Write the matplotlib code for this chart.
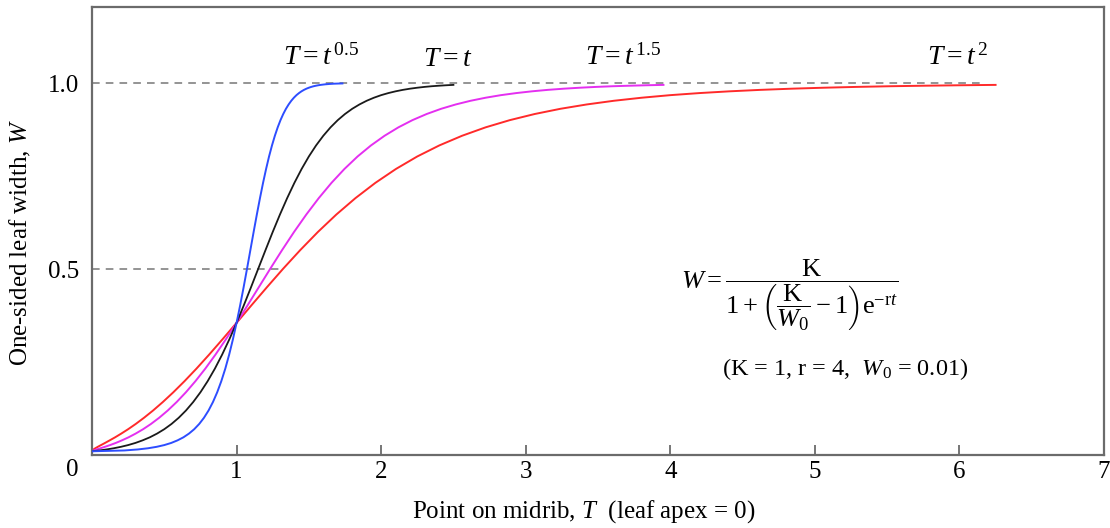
import matplotlib
matplotlib.use("Agg")
import matplotlib.pyplot as plt

plt.rcParams['font.family'] = ['Liberation Serif', 'DejaVu Serif']
plt.rcParams['mathtext.fontset'] = 'custom'
plt.rcParams['mathtext.rm'] = 'Liberation Serif'
plt.rcParams['mathtext.it'] = 'Liberation Serif:italic'
plt.rcParams['mathtext.bf'] = 'Liberation Serif:bold'

# Leaf width W (shared W readings at equal steps of t)
W_common = [0.0100, 0.0122, 0.0149, 0.0181, 0.0220, 0.0267, 0.0324, 0.0394, 0.0476, 0.0576,
            0.0694, 0.0835, 0.1002, 0.1197, 0.1425, 0.1687, 0.1986, 0.2323, 0.2699, 0.3111,
            0.3555, 0.4025, 0.4513, 0.5012, 0.5510, 0.5999, 0.6468, 0.6910, 0.7320, 0.7694,
            0.8030, 0.8327, 0.8587, 0.8813, 0.9007, 0.9172, 0.9312, 0.9429, 0.9528, 0.9610,
            0.9679, 0.9735, 0.9782, 0.9821, 0.9853, 0.9879, 0.9901, 0.9919, 0.9933, 0.9945,
            0.9955]
W_blue_tail = [0.9970, 0.9980, 0.9987, 0.9991, 0.9994]

# Positions on midrib T for each curve
T_black = [0.00, 0.05, 0.10, 0.15, 0.20, 0.25, 0.30, 0.35, 0.40, 0.45,
           0.50, 0.55, 0.60, 0.65, 0.70, 0.75, 0.80, 0.85, 0.90, 0.95,
           1.00, 1.05, 1.10, 1.15, 1.20, 1.25, 1.30, 1.35, 1.40, 1.45,
           1.50, 1.55, 1.60, 1.65, 1.70, 1.75, 1.80, 1.85, 1.90, 1.95,
           2.00, 2.05, 2.10, 2.15, 2.20, 2.25, 2.30, 2.35, 2.40, 2.45,
           2.50]
T_blue = [0.0, 0.2236, 0.3162, 0.3873, 0.4472, 0.5, 0.5477, 0.5916, 0.6325, 0.6708,
          0.7071, 0.7416, 0.7746, 0.8062, 0.8367, 0.8660, 0.8944, 0.9220, 0.9487, 0.9747,
          1.0, 1.0247, 1.0488, 1.0724, 1.0954, 1.1180, 1.1402, 1.1619, 1.1832, 1.2042,
          1.2247, 1.2450, 1.2649, 1.2845, 1.3038, 1.3229, 1.3416, 1.3601, 1.3784, 1.3964,
          1.4142, 1.4318, 1.4491, 1.4663, 1.4832, 1.5, 1.5166, 1.5330, 1.5492, 1.5652,
          1.5811]
T_blue_tail = [1.6125, 1.6432, 1.6733, 1.7029, 1.7321]
T_magenta = [0.0, 0.01118, 0.03162, 0.05809, 0.08944, 0.125, 0.1643, 0.2071, 0.2530, 0.3019,
             0.3536, 0.4079, 0.4648, 0.5240, 0.5857, 0.6495, 0.7155, 0.7837, 0.8538, 0.9260,
             1.0, 1.0759, 1.1537, 1.2333, 1.3145, 1.3975, 1.4823, 1.5686, 1.6565, 1.7461,
             1.8371, 1.9298, 2.0238, 2.1194, 2.2165, 2.3151, 2.4149, 2.5162, 2.6190, 2.7230,
             2.8284, 2.9352, 3.0431, 3.1525, 3.2630, 3.375, 3.4882, 3.6026, 3.7181, 3.8347,
             3.9528]
T_red = [0.0, 0.0025, 0.01, 0.0225, 0.04, 0.0625, 0.09, 0.1225, 0.16, 0.2025,
         0.25, 0.3025, 0.36, 0.4225, 0.49, 0.5625, 0.64, 0.7225, 0.81, 0.9025,
         1.0, 1.1025, 1.21, 1.3225, 1.44, 1.5625, 1.69, 1.8225, 1.96, 2.1025,
         2.25, 2.4025, 2.56, 2.7225, 2.89, 3.0625, 3.24, 3.4225, 3.61, 3.8025,
         4.0, 4.2025, 4.41, 4.6225, 4.84, 5.0625, 5.29, 5.5225, 5.76, 6.0025,
         6.25]

x_ticks = [1, 2, 3, 4, 5, 6, 7]
y_ticks = [0.5, 1.0]
y_tick_labels = ['0.5', '1.0']

fig = plt.figure(figsize=(11.1, 5.28), dpi=100)
ax = fig.add_axes([92/1110, 1-455/528, (1104-92)/1110, (455-7)/528])

spine_col = '#6b6b6b'
for s in ax.spines.values():
    s.set_color(spine_col)
    s.set_linewidth(1.6)

ax.hlines(1.0, 0, 6.15, colors='#777777', linestyles=(0, (5, 4)), lw=1.1, zorder=1)
ax.hlines(0.5, 0, 1.3, colors='#777777', linestyles=(0, (5, 4)), lw=1.1, zorder=1)

ax.plot(T_red, W_common, color='#ff2a2a', lw=1.4, zorder=2)
ax.plot(T_magenta, W_common, color='#e42ff0', lw=1.4, zorder=3)
ax.plot(T_black, W_common, color='#1a1a1a', lw=1.3, zorder=4)
ax.plot(T_blue + T_blue_tail, W_common + W_blue_tail, color='#2d4dff', lw=1.4, zorder=5)

ax.set_xlim(0, 7)
ax.set_ylim(0, 1.205)
ax.set_xticks(x_ticks)
ax.set_xticklabels([str(v) for v in x_ticks])
ax.set_yticks(y_ticks)
ax.set_yticklabels(y_tick_labels)
ax.tick_params(axis='x', direction='in', length=7, width=1.3, color=spine_col,
               labelsize=18, pad=4)
ax.tick_params(axis='y', length=0, labelsize=18, pad=9)

fig.text(72/1110, 1-470/528, '0', fontsize=18, ha='center', va='center')

fig.text(584/1110, 1-512/528, r'Point on midrib, $T$  (leaf apex = 0)', fontsize=18,
         ha='center', va='center')
fig.text(20/1110, 1-243/528, r'One-sided leaf width, $W$', fontsize=18,
         ha='center', va='center', rotation=90)

lab_kw = dict(fontsize=20, ha='center', va='center')
fig.text(321/1110, 1-57/528, r'$T = t^{\,\mathrm{0.5}}$', **lab_kw)
fig.text(448/1110, 1-59/528, r'$T = t$', **lab_kw)
fig.text(623/1110, 1-57/528, r'$T = t^{\,\mathrm{1.5}}$', **lab_kw)
fig.text(958/1110, 1-57/528, r'$T = t^{\,\mathrm{2}}$', **lab_kw)

fig.text(790/1110, 1-295/528,
         r'$W = \dfrac{\mathrm{K}}{1+\left(\dfrac{\mathrm{K}}{W_0}-1\right)\mathrm{e}^{-\mathrm{r}t}}$',
         fontsize=19, ha='center', va='center')
fig.text(845/1110, 1-369/528, r'(K = 1, r = 4,  $W_0$ = 0.01)', fontsize=17.5,
         ha='center', va='center')

fig.savefig('out.png', dpi=100)
